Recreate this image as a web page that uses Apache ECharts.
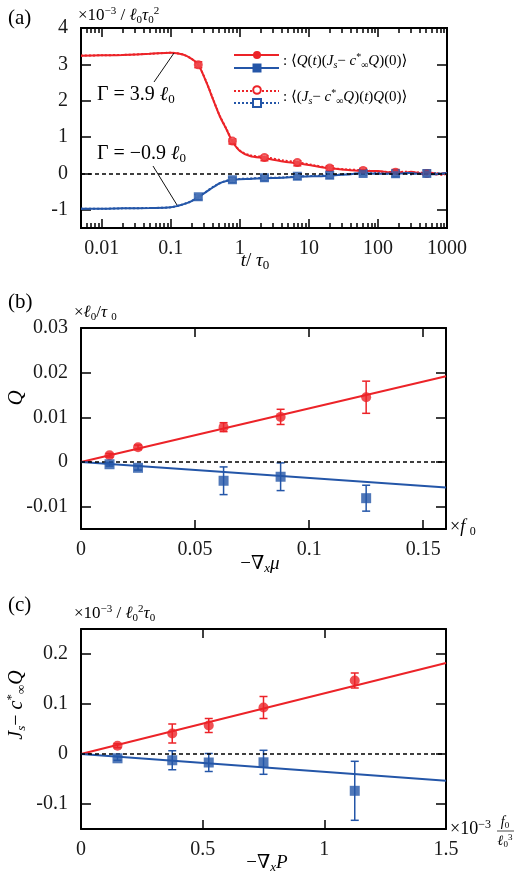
<!DOCTYPE html>
<html lang="en">
<head>
<meta charset="UTF-8">
<title>Correlation and response</title>
<script src="https://cdn.jsdelivr.net/npm/echarts@6.0.0/dist/echarts.min.js"></script>
<style>
  html, body { margin: 0; padding: 0; background: #fff; }
  #main { width: 517px; height: 890px; }
</style>
</head>
<body>
<div id="main"></div>
<script type="text/javascript">
var RED = '#ec2328';
var BLUE = '#2456a8';
var FONT = '"Liberation Serif", "DejaVu Serif", serif';

// ---- panel (a): time correlation, t in units of tau0 (log axis) ----
var tCurve      = [0.005, 0.01, 0.02, 0.05, 0.1, 0.15, 0.2, 0.25, 0.33, 0.41, 0.51, 0.64, 0.78, 1.0, 1.4, 2.3, 4.2, 6.8, 11.5, 20, 35, 61, 100, 150, 180, 250, 300, 400, 510, 600, 700, 850, 1000];
var redCurve    = [3.24, 3.25, 3.26, 3.29, 3.32, 3.27, 3.15, 2.99, 2.49, 2.03, 1.58, 1.21, 0.88, 0.62, 0.48, 0.42, 0.33, 0.28, 0.21, 0.14, 0.10, 0.07, 0.07, 0.03, 0.05, 0.02, 0.05, 0.00, -0.04, 0.02, -0.03, 0.00, 0.02];
var redCurveRev = [3.24, 3.25, 3.26, 3.29, 3.32, 3.27, 3.15, 2.99, 2.50, 2.04, 1.59, 1.22, 0.89, 0.63, 0.50, 0.45, 0.36, 0.31, 0.23, 0.15, 0.11, 0.09, 0.05, 0.04, 0.03, 0.05, 0.02, 0.03, -0.02, -0.01, 0.01, -0.04, 0.00];
var blueCurve   = [-0.97, -0.97, -0.96, -0.95, -0.93, -0.85, -0.76, -0.65, -0.50, -0.38, -0.27, -0.21, -0.18, -0.16, -0.15, -0.13, -0.12, -0.09, -0.08, -0.06, -0.03, 0.01, -0.01, 0.00, -0.02, 0.01, 0.01, -0.01, 0.00, -0.02, -0.02, 0.00, 0.01];
var blueCurveRev= [-0.97, -0.97, -0.96, -0.95, -0.93, -0.85, -0.76, -0.64, -0.49, -0.37, -0.27, -0.20, -0.17, -0.15, -0.14, -0.12, -0.11, -0.08, -0.07, -0.05, -0.02, 0.00, 0.01, -0.01, -0.01, 0.00, -0.02, 0.01, -0.01, 0.00, 0.01, -0.01, 0.00];

var tMark        = [0.25, 0.78, 2.27, 6.8, 20, 61, 180, 510];
var redMark      = [2.99, 0.88, 0.42, 0.28, 0.14, 0.07, 0.04, 0.02];
var redMarkRev   = [2.99, 0.89, 0.44, 0.30, 0.15, 0.08, 0.03, 0.00];
var redMarkErr   = [0.08, 0.07, 0.07, 0.07, 0.07, 0.07, 0.07, 0.07];
var blueMark     = [-0.65, -0.18, -0.13, -0.09, -0.06, 0.01, -0.02, 0.00];
var blueMarkRev  = [-0.64, -0.17, -0.12, -0.08, -0.05, 0.00, -0.01, 0.00];
var blueMarkErr  = [0.07, 0.07, 0.07, 0.07, 0.07, 0.07, 0.07, 0.07];

var aXTicks  = [0.01, 0.1, 1, 10, 100, 1000];
var aXLabels = ['0.01', '0.1', '1', '10', '100', '1000'];
var aMinorMult = [2, 3, 4, 5, 6, 7, 8, 9];
var aYTicks  = [-1, 0, 1, 2, 3, 4];

// ---- panel (b): Q vs -grad mu ----
var bX       = [0.0125, 0.025, 0.0625, 0.0875, 0.125];
var bRed     = [0.0015, 0.0033, 0.0078, 0.0101, 0.0145];
var bRedErr  = [0.0004, 0.0005, 0.0010, 0.0017, 0.0036];
var bBlue    = [-0.0005, -0.0013, -0.0042, -0.0033, -0.0081];
var bBlueErr = [0.0004, 0.0005, 0.0031, 0.0031, 0.0029];
var bFitX    = [0, 0.16];
var bRedFit  = [0, 0.0192];
var bBlueFit = [0, -0.0057];
var bXTicks  = [0, 0.05, 0.1, 0.15];
var bYTicks  = [-0.01, 0, 0.01, 0.02, 0.03];

// ---- panel (c): Js - c Q vs -grad P ----
var cX       = [0.15, 0.375, 0.525, 0.75, 1.125];
var cRed     = [0.0165, 0.041, 0.057, 0.093, 0.147];
var cRedErr  = [0.004, 0.019, 0.014, 0.022, 0.015];
var cBlue    = [-0.0086, -0.0125, -0.017, -0.0166, -0.0736];
var cBlueErr = [0.004, 0.019, 0.018, 0.024, 0.059];
var cFitX    = [0, 1.5];
var cRedFit  = [0, 0.182];
var cBlueFit = [0, -0.0537];
var cXTicks  = [0, 0.5, 1, 1.5];
var cYTicks  = [-0.1, 0, 0.1, 0.2];

function lg(v) { return Math.log10(v); }
function pairs(xs, ys, fx) {
  return xs.map(function (x, i) { return [fx ? fx(x) : x, ys[i]]; });
}
function triples(xs, ys, es, fx) {
  return xs.map(function (x, i) { return [fx ? fx(x) : x, ys[i], es[i]]; });
}

var aMinor = [];
for (var d = -3; d <= 2; d++) {
  aMinorMult.forEach(function (k) {
    var v = lg(k * Math.pow(10, d));
    if (v > lg(0.005) && v < 3) aMinor.push(v);
  });
}

var tickLabel = { fontFamily: FONT, fontSize: 20, color: '#1a1a1a' };

function xAx(grid, pos, min, max, ticks, len, labels) {
  return {
    type: 'value', gridIndex: grid, position: pos, min: min, max: max,
    axisLine: { show: true, onZero: false, lineStyle: { color: '#000', width: 2 } },
    axisTick: { show: true, inside: true, length: len, customValues: ticks, lineStyle: { color: '#000', width: 1.5 } },
    axisLabel: labels ? Object.assign({ show: true, margin: 11, customValues: ticks, formatter: labels }, tickLabel) : { show: false },
    splitLine: { show: false }
  };
}
function yAx(grid, pos, min, max, ticks, labels) {
  return {
    type: 'value', gridIndex: grid, position: pos, min: min, max: max,
    axisLine: { show: true, onZero: false, lineStyle: { color: '#000', width: 2 } },
    axisTick: { show: true, inside: true, length: 10, customValues: ticks, lineStyle: { color: '#000', width: 1.5 } },
    axisLabel: labels ? Object.assign({ show: true, margin: 13, customValues: ticks, formatter: labels }, tickLabel) : { show: false },
    splitLine: { show: false }
  };
}
function plain(v) { return String(v); }

function errBars(cap) {
  return function (params, api) {
    var x = api.value(0), y = api.value(1), e = api.value(2);
    var top = api.coord([x, y + e]), bot = api.coord([x, y - e]);
    var st = { stroke: api.visual('color'), lineWidth: 1.5 };
    return { type: 'group', children: [
      { type: 'line', shape: { x1: top[0], y1: top[1], x2: bot[0], y2: bot[1] }, style: st },
      { type: 'line', shape: { x1: top[0] - cap, y1: top[1], x2: top[0] + cap, y2: top[1] }, style: st },
      { type: 'line', shape: { x1: bot[0] - cap, y1: bot[1], x2: bot[0] + cap, y2: bot[1] }, style: st }
    ]};
  };
}

function zeroLine() {
  return { silent: true, symbol: 'none', label: { show: false },
           lineStyle: { color: '#000', type: [4, 3], width: 1.5 }, data: [{ yAxis: 0 }] };
}

function richSet(s) {
  var sm = Math.round(s * 0.66);
  var base = { fontFamily: FONT, color: '#1a1a1a' };
  return {
    n:  Object.assign({ fontSize: s }, base),
    i:  Object.assign({ fontSize: s, fontStyle: 'italic' }, base),
    b:  Object.assign({ fontSize: sm, padding: [Math.round(s * 0.5), 0, 0, 0] }, base),
    bi: Object.assign({ fontSize: sm, fontStyle: 'italic', padding: [Math.round(s * 0.5), 0, 0, 0] }, base),
    p:  Object.assign({ fontSize: sm, padding: [0, 0, Math.round(s * 0.5), 0] }, base)
  };
}
function txt(x, y, s, text, align, rot) {
  return { type: 'text', x: x, y: y, rotation: rot || 0, z: 100,
           style: { text: text, rich: richSet(s), align: align || 'left', verticalAlign: 'middle' } };
}

var myChart = echarts.init(document.getElementById('main'));

var option = {
  animation: false,
  backgroundColor: '#fff',
  grid: [
    { left: 81, top: 28, width: 366, height: 200 },
    { left: 81, top: 328, width: 365, height: 201 },
    { left: 81, top: 629, width: 365, height: 200 }
  ],
  xAxis: [
    xAx(0, 'bottom', lg(0.005), lg(1000), aXTicks.map(lg), 9, function (v) {
      return aXLabels[Math.round(v) + 2];
    }),
    xAx(0, 'bottom', lg(0.005), lg(1000), aMinor, 5, null),
    xAx(0, 'top', lg(0.005), lg(1000), aXTicks.map(lg), 9, null),
    xAx(0, 'top', lg(0.005), lg(1000), aMinor, 5, null),
    xAx(1, 'bottom', 0, 0.16, bXTicks, 9, plain),
    xAx(1, 'top', 0, 0.16, bXTicks, 9, null),
    xAx(2, 'bottom', 0, 1.5, cXTicks, 9, plain),
    xAx(2, 'top', 0, 1.5, cXTicks, 9, null)
  ],
  yAxis: [
    yAx(0, 'left', -1.5, 4, aYTicks, plain),
    yAx(0, 'right', -1.5, 4, aYTicks, null),
    yAx(1, 'left', -0.015, 0.03, bYTicks, plain),
    yAx(1, 'right', -0.015, 0.03, bYTicks, null),
    yAx(2, 'left', -0.15, 0.25, cYTicks, plain),
    yAx(2, 'right', -0.15, 0.25, cYTicks, null)
  ],
  series: [
    // (a) curves
    { type: 'line', xAxisIndex: 0, yAxisIndex: 0, data: pairs(tCurve, redCurveRev, lg), smooth: 0.3, showSymbol: false,
      lineStyle: { color: RED, width: 2, type: [2, 2] }, markLine: zeroLine() },
    { type: 'line', xAxisIndex: 0, yAxisIndex: 0, data: pairs(tCurve, blueCurveRev, lg), smooth: 0.3, showSymbol: false,
      lineStyle: { color: BLUE, width: 2, type: [2, 2] } },
    { type: 'line', xAxisIndex: 0, yAxisIndex: 0, data: pairs(tCurve, redCurve, lg), smooth: 0.3, showSymbol: false,
      lineStyle: { color: RED, width: 2 } },
    { type: 'line', xAxisIndex: 0, yAxisIndex: 0, data: pairs(tCurve, blueCurve, lg), smooth: 0.3, showSymbol: false,
      lineStyle: { color: BLUE, width: 2 } },
    { type: 'custom', xAxisIndex: 0, yAxisIndex: 0, renderItem: errBars(4), itemStyle: { color: RED },
      data: triples(tMark, redMark, redMarkErr, lg), encode: { x: 0, y: 1 }, z: 3 },
    { type: 'custom', xAxisIndex: 0, yAxisIndex: 0, renderItem: errBars(4), itemStyle: { color: BLUE },
      data: triples(tMark, blueMark, blueMarkErr, lg), encode: { x: 0, y: 1 }, z: 3 },
    { type: 'scatter', xAxisIndex: 0, yAxisIndex: 0, data: pairs(tMark, redMarkRev, lg), symbol: 'emptyCircle', symbolSize: 7,
      itemStyle: { color: RED, borderColor: RED, borderWidth: 1.5 }, z: 4 },
    { type: 'scatter', xAxisIndex: 0, yAxisIndex: 0, data: pairs(tMark, blueMarkRev, lg), symbol: 'emptyRect', symbolSize: 7,
      itemStyle: { color: BLUE, borderColor: BLUE, borderWidth: 1.5 }, z: 4 },
    { type: 'scatter', xAxisIndex: 0, yAxisIndex: 0, data: pairs(tMark, redMark, lg), symbol: 'circle', symbolSize: 6,
      itemStyle: { color: RED }, z: 5 },
    { type: 'scatter', xAxisIndex: 0, yAxisIndex: 0, data: pairs(tMark, blueMark, lg), symbol: 'rect', symbolSize: 6,
      itemStyle: { color: BLUE }, z: 5 },

    // (b)
    { type: 'line', xAxisIndex: 4, yAxisIndex: 2, data: pairs(bFitX, bRedFit), showSymbol: false,
      lineStyle: { color: RED, width: 2 }, markLine: zeroLine() },
    { type: 'line', xAxisIndex: 4, yAxisIndex: 2, data: pairs(bFitX, bBlueFit), showSymbol: false,
      lineStyle: { color: BLUE, width: 2 } },
    { type: 'custom', xAxisIndex: 4, yAxisIndex: 2, renderItem: errBars(4), itemStyle: { color: RED },
      data: triples(bX, bRed, bRedErr), encode: { x: 0, y: 1 }, z: 3 },
    { type: 'custom', xAxisIndex: 4, yAxisIndex: 2, renderItem: errBars(4), itemStyle: { color: BLUE },
      data: triples(bX, bBlue, bBlueErr), encode: { x: 0, y: 1 }, z: 3 },
    { type: 'scatter', xAxisIndex: 4, yAxisIndex: 2, data: pairs(bX, bRed), symbol: 'circle', symbolSize: 10,
      itemStyle: { color: RED }, z: 5 },
    { type: 'scatter', xAxisIndex: 4, yAxisIndex: 2, data: pairs(bX, bBlue), symbol: 'rect', symbolSize: 10,
      itemStyle: { color: BLUE }, z: 5 },

    // (c)
    { type: 'line', xAxisIndex: 6, yAxisIndex: 4, data: pairs(cFitX, cRedFit), showSymbol: false,
      lineStyle: { color: RED, width: 2 }, markLine: zeroLine() },
    { type: 'line', xAxisIndex: 6, yAxisIndex: 4, data: pairs(cFitX, cBlueFit), showSymbol: false,
      lineStyle: { color: BLUE, width: 2 } },
    { type: 'custom', xAxisIndex: 6, yAxisIndex: 4, renderItem: errBars(4), itemStyle: { color: RED },
      data: triples(cX, cRed, cRedErr), encode: { x: 0, y: 1 }, z: 3 },
    { type: 'custom', xAxisIndex: 6, yAxisIndex: 4, renderItem: errBars(4), itemStyle: { color: BLUE },
      data: triples(cX, cBlue, cBlueErr), encode: { x: 0, y: 1 }, z: 3 },
    { type: 'scatter', xAxisIndex: 6, yAxisIndex: 4, data: pairs(cX, cRed), symbol: 'circle', symbolSize: 10,
      itemStyle: { color: RED }, z: 5 },
    { type: 'scatter', xAxisIndex: 6, yAxisIndex: 4, data: pairs(cX, cBlue), symbol: 'rect', symbolSize: 10,
      itemStyle: { color: BLUE }, z: 5 }
  ],
  graphic: [
    // panel labels and units
    txt(8, 18, 21, '{n|(a)}'),
    txt(78, 16, 17, '{n|×10}{p|−3}{n| / }{i|ℓ}{b|0}{i|τ}{b|0}{p|2}'),
    txt(255, 261, 19, '{i|t}{n|/ }{i|τ}{b|0}', 'center'),
    txt(8, 302, 21, '{n|(b)}'),
    txt(74, 313, 17, '{n|×}{i|ℓ}{b|0}{n|/}{i|τ }{b|0}'),
    txt(16, 398, 21, '{i|Q}', 'center', Math.PI / 2),
    txt(450, 527, 18, '{n|×}{i|f }{b|0}'),
    txt(260, 564, 19, '{n|−∇}{bi|x}{i|μ}', 'center'),
    txt(8, 605, 21, '{n|(c)}'),
    txt(74, 614, 17, '{n|×10}{p|−3}{n| / }{i|ℓ}{b|0}{p|2}{i|τ}{b|0}'),
    txt(17, 705, 20, '{i|J}{bi|s}{n|− }{i|c}{p|*}{b|∞}{i|Q}', 'center', Math.PI / 2),
    txt(450, 829, 18, '{n|×10}{p|−3}'),
    txt(505, 822, 14, '{i|f}{b|0}', 'center'),
    txt(505, 841, 14, '{i|ℓ}{b|0}{p|3}', 'center'),
    { type: 'line', shape: { x1: 497, y1: 831, x2: 514, y2: 831 }, style: { stroke: '#1a1a1a', lineWidth: 0.8 }, z: 100 },
    txt(267, 863, 19, '{n|−∇}{bi|x}{i|P}', 'center'),

    // annotations in (a)
    txt(97, 95, 20, '{n|Γ = 3.9 }{i|ℓ}{b|0}'),
    txt(97, 154, 20, '{n|Γ = −0.9 }{i|ℓ}{b|0}'),
    { type: 'line', shape: { x1: 154, y1: 82, x2: 174, y2: 53 }, style: { stroke: '#111', lineWidth: 1 }, z: 100 },
    { type: 'line', shape: { x1: 153, y1: 166, x2: 177, y2: 205 }, style: { stroke: '#111', lineWidth: 1 }, z: 100 },

    // legend in (a)
    { type: 'line', shape: { x1: 234, y1: 55, x2: 279, y2: 55 }, style: { stroke: RED, lineWidth: 2 }, z: 100 },
    { type: 'circle', shape: { cx: 257, cy: 55, r: 4 }, style: { fill: RED }, z: 101 },
    { type: 'line', shape: { x1: 234, y1: 68, x2: 279, y2: 68 }, style: { stroke: BLUE, lineWidth: 2 }, z: 100 },
    { type: 'rect', shape: { x: 252.5, y: 63.5, width: 9, height: 9 }, style: { fill: BLUE }, z: 101 },
    txt(283, 61, 15, '{n|: ⟨}{i|Q}{n|(}{i|t}{n|)(}{i|J}{bi|s}{n|− }{i|c}{p|*}{b|∞}{i|Q}{n|)(0)⟩}'),
    { type: 'line', shape: { x1: 234, y1: 91, x2: 279, y2: 91 }, style: { stroke: RED, lineWidth: 2, lineDash: [2, 2] }, z: 100 },
    { type: 'circle', shape: { cx: 257, cy: 90, r: 3.8 }, style: { fill: '#fff', stroke: RED, lineWidth: 2 }, z: 101 },
    { type: 'line', shape: { x1: 234, y1: 103, x2: 279, y2: 103 }, style: { stroke: BLUE, lineWidth: 2, lineDash: [2, 2] }, z: 100 },
    { type: 'rect', shape: { x: 253, y: 99, width: 8, height: 8 }, style: { fill: '#fff', stroke: BLUE, lineWidth: 2 }, z: 101 },
    txt(283, 97, 15, '{n|: ⟨(}{i|J}{bi|s}{n|− }{i|c}{p|*}{b|∞}{i|Q}{n|)(}{i|t}{n|)}{i|Q}{n|(0)⟩}')
  ]
};

myChart.setOption(option);
</script>
</body>
</html>
